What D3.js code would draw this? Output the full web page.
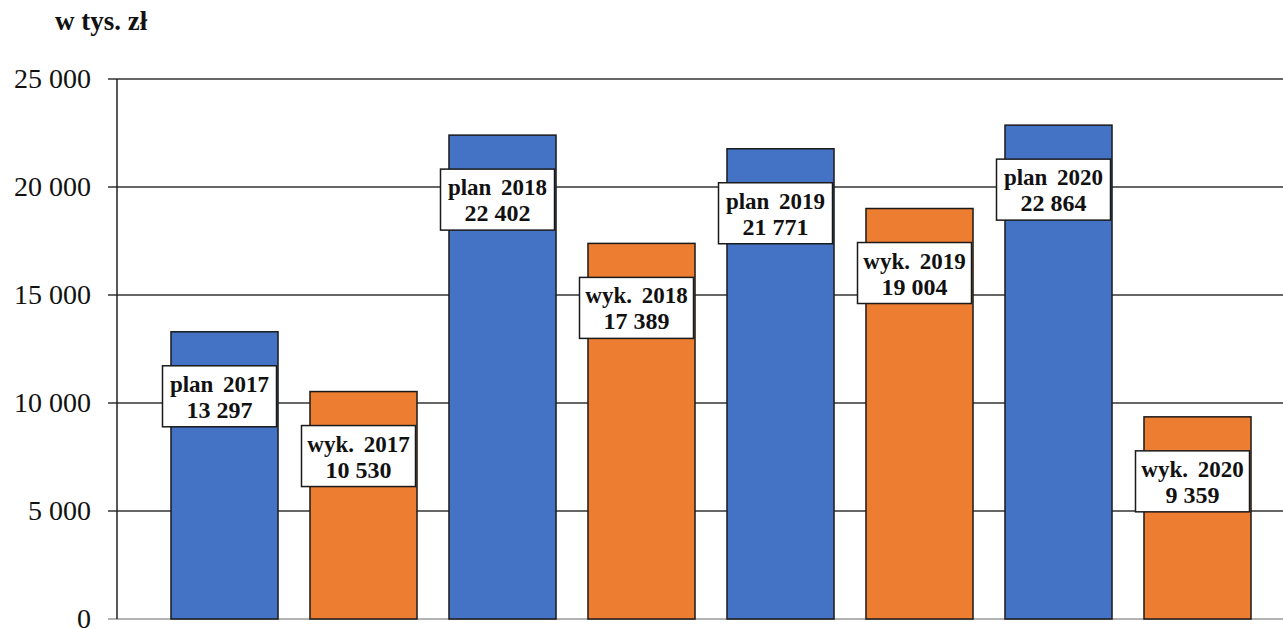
<!DOCTYPE html>
<html><head><meta charset="utf-8">
<script src="https://cdn.jsdelivr.net/npm/d3@7"></script>
</head><body style="margin:0">
<svg id="c" width="1283" height="629" style="display:block"></svg>
<script>
const categories = ["plan 2017","wyk. 2017","plan 2018","wyk. 2018","plan 2019","wyk. 2019","plan 2020","wyk. 2020"];
const values = [13297,10530,22402,17389,21771,19004,22864,9359];
const seriesType = ["plan","wyk","plan","wyk","plan","wyk","plan","wyk"];
const valueLabels = ["13 297","10 530","22 402","17 389","21 771","19 004","22 864","9 359"];
const yTicks = [0,5000,10000,15000,20000,25000];
const yTickLabels = ["0","5 000","10 000","15 000","20 000","25 000"];
const colors = {plan:"#4472C4", wyk:"#ED7D31"};

const svg = d3.select("#c");
const y = d3.scaleLinear().domain([0,25000]).range([619,79]);
const x = d3.scaleBand().domain(categories).range([155,1267]).paddingInner(0.23).paddingOuter(0.115);

function serif(sel){ return sel.attr("font-family","Liberation Serif").style("font-family",'"Liberation Serif"'); }

// title
svg.append("text").attr("x",55).attr("y",30).attr("font-weight","bold")
  .attr("font-size",27).attr("fill","#111").call(serif).text("w tys. zł");

// gridlines
svg.append("g").selectAll("line").data(yTicks).join("line")
  .attr("x1",108).attr("x2",1283).attr("y1",d=>y(d)).attr("y2",d=>y(d))
  .attr("stroke",d=>d===0?"#9a9a9a":"#333").attr("stroke-width",1.5);

// axis line
svg.append("line").attr("x1",117).attr("x2",117).attr("y1",y(25000)).attr("y2",y(0))
  .attr("stroke","#222").attr("stroke-width",1.5);

// tick labels
svg.append("g").selectAll("text").data(yTicks).join("text")
  .attr("x",91).attr("y",d=>y(d)+9).attr("text-anchor","end")
  .attr("font-size",28).attr("fill","#111").call(serif)
  .text((d,i)=>yTickLabels[i]);

// bars
svg.append("g").selectAll("rect").data(values).join("rect")
  .attr("x",(d,i)=>x(categories[i])).attr("width",x.bandwidth())
  .attr("y",d=>y(d)).attr("height",d=>y(0)-y(d))
  .attr("fill",(d,i)=>colors[seriesType[i]]).attr("stroke","#1a1a1a").attr("stroke-width",1.5);

// labels
const lg = svg.append("g").selectAll("g").data(values).join("g")
  .attr("transform",(d,i)=>`translate(${x(categories[i])+x.bandwidth()/2-5},${y(d)+65})`);
lg.append("rect").attr("x",-57).attr("y",-31).attr("width",114).attr("height",61)
  .attr("fill","#fff").attr("stroke","#1a1a1a").attr("stroke-width",1.5);
lg.append("text").attr("text-anchor","middle").attr("y",-5)
  .attr("font-weight","bold").attr("font-size",23).attr("fill","#111").call(serif)
  .attr("word-spacing",4).text((d,i)=>categories[i]);
lg.append("text").attr("text-anchor","middle").attr("y",21)
  .attr("font-weight","bold").attr("font-size",24).attr("fill","#111").call(serif)
  .text((d,i)=>valueLabels[i]);
</script>
</body></html>
